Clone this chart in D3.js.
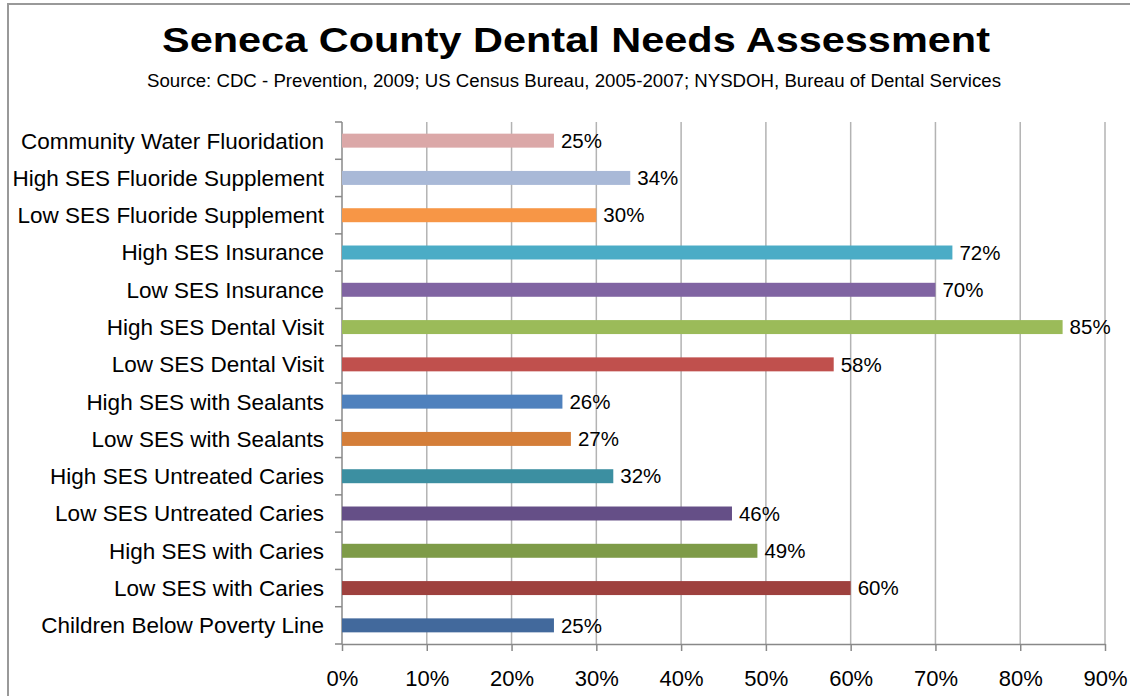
<!DOCTYPE html>
<html>
<head>
<meta charset="utf-8">
<script src="https://cdn.jsdelivr.net/npm/d3@7"></script>
<style>
  html, body { margin: 0; padding: 0; background: #fff; }
  svg { display: block; font-family: "Liberation Sans", Arial, Helvetica, sans-serif; }
</style>
</head>
<body>
<svg id="chart" width="1130" height="696"></svg>
<script>
// Indicators, listed top to bottom
const categories = [
  "Community Water Fluoridation",
  "High SES Fluoride Supplement",
  "Low SES Fluoride Supplement",
  "High SES Insurance",
  "Low SES Insurance",
  "High SES Dental Visit",
  "Low SES Dental Visit",
  "High SES with Sealants",
  "Low SES with Sealants",
  "High SES Untreated Caries",
  "Low SES Untreated Caries",
  "High SES with Caries",
  "Low SES with Caries",
  "Children Below Poverty Line"
];
// Percent values for each indicator
const values = [25, 34, 30, 72, 70, 85, 58, 26, 27, 32, 46, 49, 60, 25];
// One fill per bar
const barColors = [
  "#DBA8A8", "#A9B9D7", "#F79646", "#4BACC6", "#8064A2", "#9BBB59", "#C0504D",
  "#4F81BD", "#D47E39", "#3C8FA1", "#654F87", "#7E9B48", "#9E413E", "#42699C"
];
// Horizontal axis ticks (percent)
const xTicks = [0, 10, 20, 30, 40, 50, 60, 70, 80, 90];

const titleText = "Seneca County Dental Needs Assessment";
const subtitleText = "Source: CDC - Prevention, 2009; US Census Bureau, 2005-2007; NYSDOH, Bureau of Dental Services";

const svg = d3.select("#chart");

// Outer chart frame
svg.append("rect")
  .attr("x", 8).attr("y", 4)
  .attr("width", 1140).attr("height", 710)
  .attr("fill", "#fff")
  .attr("stroke", "#999").attr("stroke-width", 2);

const plot = { left: 342, right: 1105, top: 122, bottom: 644 };

const x = d3.scaleLinear().domain([0, 90]).range([plot.left, plot.right]);
const y = d3.scaleBand()
  .domain(categories)
  .range([plot.top, plot.bottom])
  .paddingInner(0.625)
  .paddingOuter(0.3125);

// Title and source line
svg.append("text")
  .attr("x", 576).attr("y", 52)
  .attr("text-anchor", "middle")
  .attr("font-size", 35).attr("font-weight", "bold")
  .attr("textLength", 828).attr("lengthAdjust", "spacingAndGlyphs")
  .attr("fill", "#000")
  .text(titleText);

svg.append("text")
  .attr("x", 574).attr("y", 87)
  .attr("text-anchor", "middle")
  .attr("font-size", 17.5)
  .attr("textLength", 854).attr("lengthAdjust", "spacingAndGlyphs")
  .attr("fill", "#000")
  .text(subtitleText);

// Vertical gridlines
svg.append("g")
  .selectAll("line")
  .data(xTicks.slice(1))
  .join("line")
  .attr("x1", d => x(d)).attr("x2", d => x(d))
  .attr("y1", plot.top).attr("y2", plot.bottom)
  .attr("stroke", "#b3b3b3").attr("stroke-width", 1.5);

// Bottom axis with downward ticks
const xAxis = d3.axisBottom(x)
  .tickValues(xTicks)
  .tickFormat(d => d + "%")
  .tickSizeInner(7)
  .tickSizeOuter(0)
  .tickPadding(19);

const gx = svg.append("g")
  .attr("transform", `translate(0,${plot.bottom})`)
  .call(xAxis);
gx.select(".domain").attr("stroke", "#888").attr("stroke-width", 1.5);
gx.selectAll(".tick line").attr("stroke", "#888").attr("stroke-width", 1.5);
gx.selectAll(".tick text")
  .attr("font-size", 22)
  .attr("font-family", "'Liberation Sans', Arial, sans-serif")
  .attr("fill", "#000");

// Left axis: line plus ticks at category boundaries
const step = y.step();
const boundaries = d3.range(categories.length + 1).map(i => plot.top + i * step);
svg.append("line")
  .attr("x1", plot.left).attr("x2", plot.left)
  .attr("y1", plot.top).attr("y2", plot.bottom)
  .attr("stroke", "#888").attr("stroke-width", 1.5);
svg.append("g")
  .selectAll("line")
  .data(boundaries)
  .join("line")
  .attr("x1", plot.left - 7).attr("x2", plot.left)
  .attr("y1", d => d).attr("y2", d => d)
  .attr("stroke", "#888").attr("stroke-width", 1.5);

// Category labels
svg.append("g")
  .selectAll("text")
  .data(categories)
  .join("text")
  .attr("x", 324)
  .attr("y", d => y(d) + y.bandwidth() / 2)
  .attr("dy", "0.35em")
  .attr("text-anchor", "end")
  .attr("font-size", 22.5)
  .attr("fill", "#000")
  .text(d => d);

// Bars
const rows = categories.map((c, i) => ({ cat: c, value: values[i], color: barColors[i] }));
svg.append("g")
  .selectAll("rect")
  .data(rows)
  .join("rect")
  .attr("x", x(0))
  .attr("y", d => y(d.cat))
  .attr("width", d => x(d.value) - x(0))
  .attr("height", y.bandwidth())
  .attr("fill", d => d.color);

// Value labels
svg.append("g")
  .selectAll("text")
  .data(rows)
  .join("text")
  .attr("x", d => x(d.value) + 7)
  .attr("y", d => y(d.cat) + y.bandwidth() / 2)
  .attr("dy", "0.35em")
  .attr("font-size", 20.5)
  .attr("fill", "#000")
  .text(d => d.value + "%");
</script>
</body>
</html>
